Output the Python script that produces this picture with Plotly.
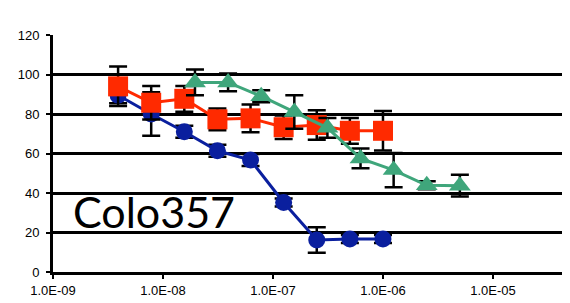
import plotly.graph_objects as go

# Concentrations (M)
conc_rb = [3.90625e-9, 7.8125e-9, 1.5625e-8, 3.125e-8, 6.25e-8, 1.25e-7, 2.5e-7, 5e-7, 1e-6]
conc_green = [1.953125e-8, 3.90625e-8, 7.8125e-8, 1.5625e-7, 3.125e-7, 6.25e-7, 1.25e-6, 2.5e-6, 5e-6]

blue_vals = [89.5, 80, 71, 61.4, 56.7, 35.2, 16.2, 16.7, 16.7]
blue_err = [4, 11, 3, 3, 3, 2, 6.5, 2, 2]

red_vals = [94, 85.7, 87.7, 77.3, 77.8, 73.3, 74.4, 71.5, 71.5]
red_err = [10, 8.5, 6.5, 5.5, 7, 6, 7.5, 6.5, 10]

green_vals = [96, 96, 89, 81, 73, 57.5, 51.6, 43.9, 43.7]
green_err = [6.5, 4.5, 3, 8.5, 5, 5, 8.7, 2, 5.5]

x_tickvals = [1e-9, 1e-8, 1e-7, 1e-6, 1e-5]
x_ticktext = ["1.0E-09", "1.0E-08", "1.0E-07", "1.0E-06", "1.0E-05"]
y_tickvals = [0, 20, 40, 60, 80, 100, 120]

BLUE = "#0a1f9e"
RED = "#ff2a00"
GREEN = "#3fa67b"

def err(vals):
    return dict(type="data", array=vals, visible=True, color="black", thickness=2.5, width=9)

fig = go.Figure()
fig.add_trace(go.Scatter(x=conc_rb, y=blue_vals, mode="lines+markers",
                         line=dict(color=BLUE, width=3),
                         marker=dict(symbol="circle", size=17, color=BLUE),
                         error_y=err(blue_err), showlegend=False))
fig.add_trace(go.Scatter(x=conc_rb, y=red_vals, mode="lines+markers",
                         line=dict(color=RED, width=3),
                         marker=dict(symbol="square", size=20, color=RED),
                         error_y=err(red_err), showlegend=False))
fig.add_trace(go.Scatter(x=conc_green, y=green_vals, mode="lines+markers",
                         line=dict(color=GREEN, width=3),
                         marker=dict(symbol="triangle-up", size=19, color=GREEN),
                         error_y=err(green_err), showlegend=False))

fig.add_annotation(x=0.034, y=0.255, xref="paper", yref="paper", text="Colo357",
                   showarrow=False, xanchor="left", yanchor="middle",
                   font=dict(family="Lato", size=43, color="black"))

# The page body has an 8px margin, so the figure is offset; margins compensate.
fig.update_layout(
    width=570, height=303,
    margin=dict(l=45, r=0, t=27, b=39),
    paper_bgcolor="white", plot_bgcolor="white",
    font=dict(family="Liberation Sans, Arial", size=13, color="black"),
)
fig.update_xaxes(type="log", range=[-9, -4.227], tickvals=x_tickvals, ticktext=x_ticktext,
                 showgrid=False, zeroline=False, showline=True, linecolor="black", linewidth=3,
                 ticks="outside", ticklen=4, tickwidth=2, tickcolor="black",
                 tickfont=dict(size=13))
fig.update_yaxes(range=[0, 120], tickvals=y_tickvals, showgrid=True, gridcolor="black", gridwidth=2.5,
                 zeroline=False, showline=True, linecolor="black", linewidth=3,
                 ticks="outside", ticklen=4, tickwidth=2, tickcolor="black",
                 ticklabelstandoff=4, tickfont=dict(size=13))

fig.write_html("out.html")
